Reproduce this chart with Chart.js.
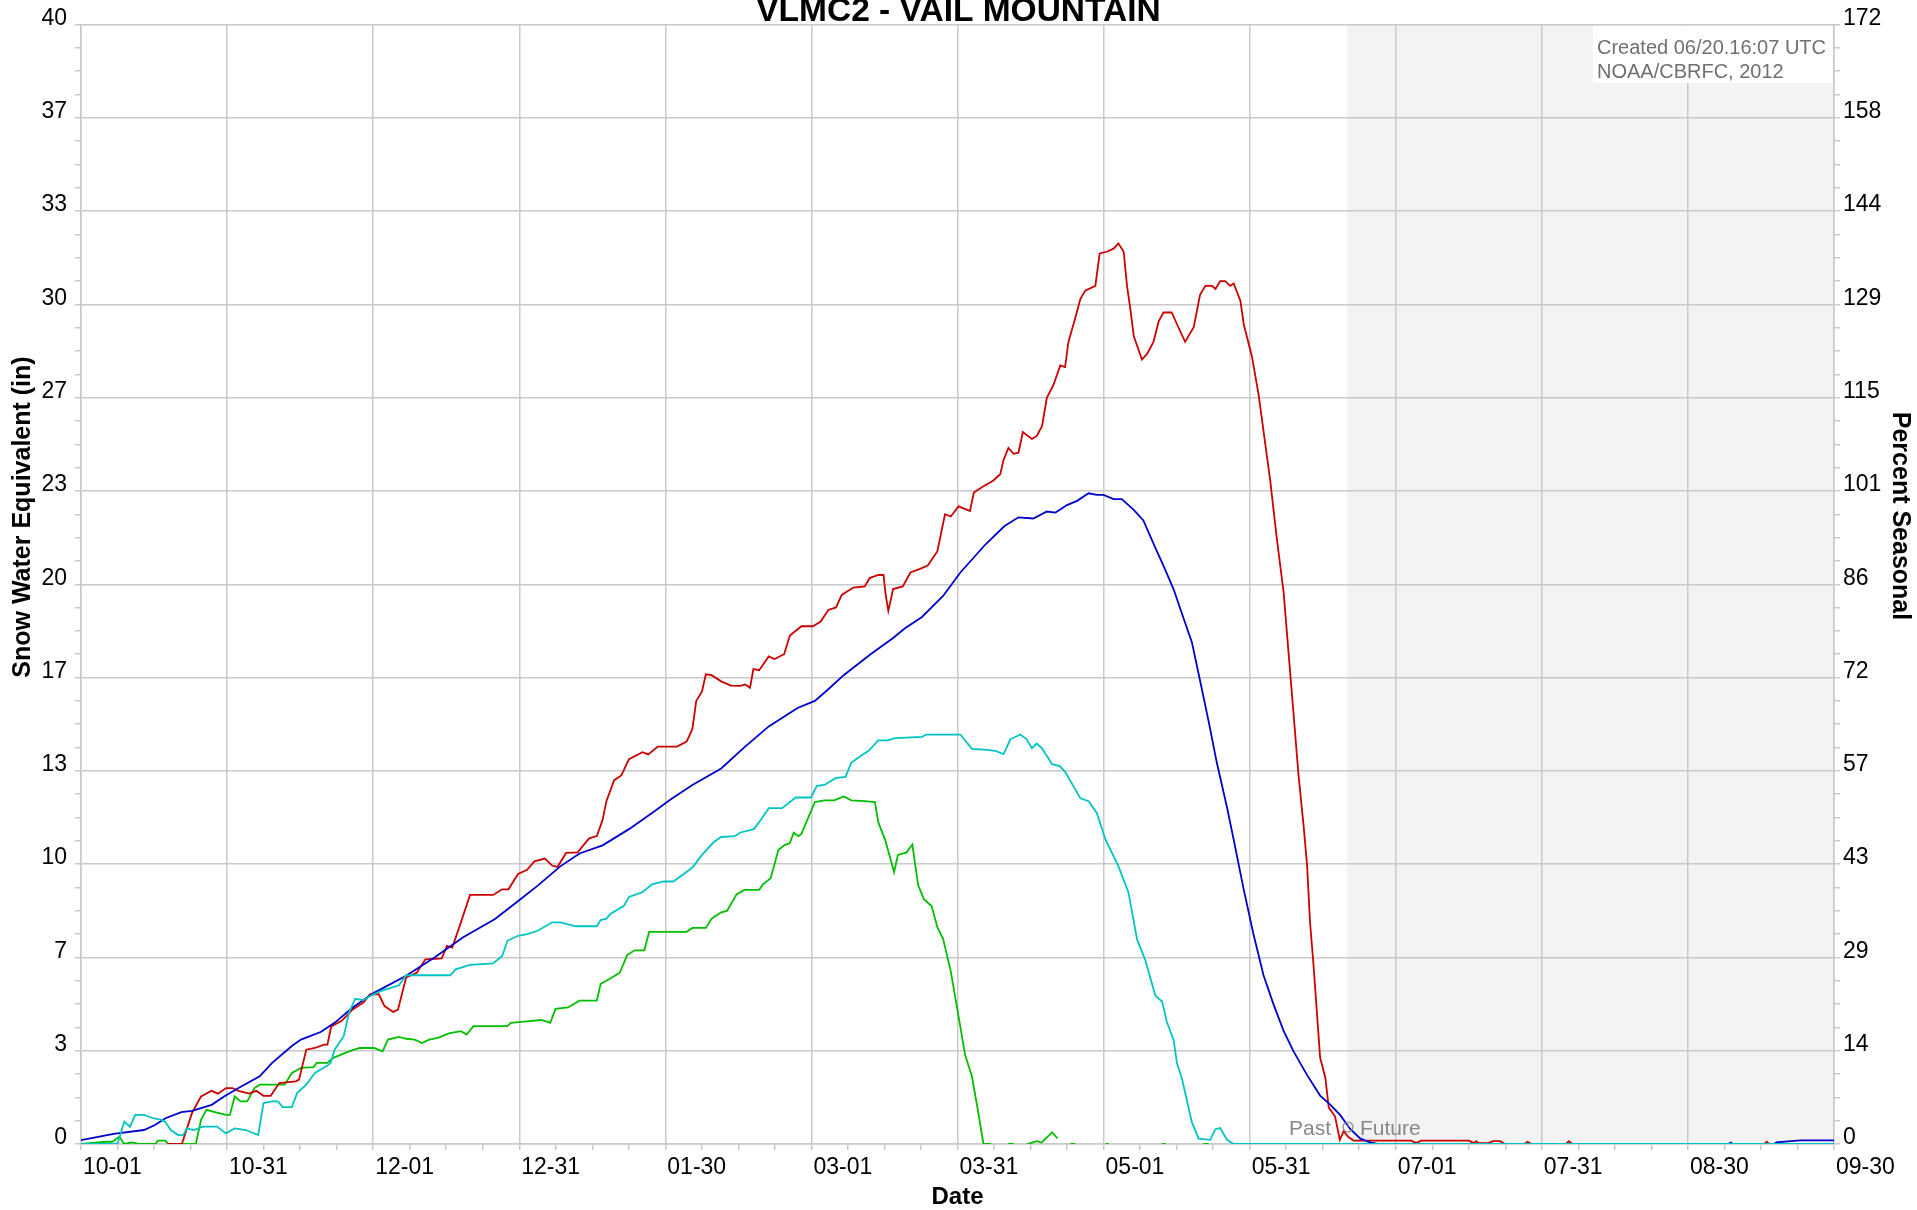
<!DOCTYPE html>
<html>
<head>
<meta charset="utf-8">
<script src="https://cdn.jsdelivr.net/npm/chart.js@4.4.0/dist/chart.umd.min.js"></script>
<style>
  html, body { margin: 0; padding: 0; background: #fff; }
  #grafico { display: block; }
</style>
</head>
<body>
<canvas id="grafico" width="1917" height="1210"></canvas>
<script>
// Datos del grafico (dia desde 10-01, pulgadas de SWE)
const tituloGrafico = "VLMC2 - VAIL MOUNTAIN";
const xTickLabels = ["10-01","10-31","12-01","12-31","01-30","03-01","03-31","05-01","05-31","07-01","07-31","08-30","09-30"];
const sweTickLabels = ["0","3","7","10","13","17","20","23","27","30","33","37","40"];
const pctTickLabels = ["0","14","29","43","57","72","86","101","115","129","144","158","172"];
const diaMax = 365;
const sweMax = 40;
const pctMax = 172.4;
const diaFuturo = 263.6;

const medianaSwe = [[0,0.14],[6.8,0.36],[13.1,0.5],[15.4,0.68],[17.6,0.92],[20.9,1.14],[23.1,1.18],[27.2,1.4],[29.8,1.7],[32.8,2.0],[37.2,2.42],[39.8,2.9],[43.9,3.5],[45.8,3.73],[49.9,4.0],[52.8,4.33],[56.5,4.87],[61,5.4],[67.6,6.0],[73.6,6.66],[79.5,7.38],[86.2,8.04],[90.7,8.64],[95.1,9.23],[99.8,9.92],[103.8,10.38],[108.6,10.67],[114.1,11.25],[118.9,11.83],[122.9,12.33],[127.3,12.83],[133.3,13.42],[138.1,14.17],[143.2,14.92],[149.2,15.58],[152.8,15.83],[155.6,16.25],[158.8,16.75],[164.4,17.5],[169.1,18.08],[171.5,18.42],[175.1,18.83],[179.5,19.58],[183.1,20.42],[188.3,21.42],[192.3,22.08],[195.2,22.39],[198.3,22.35],[201.1,22.6],[202.9,22.56],[205.3,22.83],[207.4,22.98],[209.8,23.25],[211.5,23.19],[212.9,23.19],[215,23.04],[216.7,23.04],[219.2,22.66],[221.2,22.28],[223.7,21.3],[225.4,20.66],[227.5,19.82],[229.6,18.77],[231.3,17.93],[233,16.56],[234.8,15.09],[236.5,13.62],[238.6,12.04],[240,10.88],[242.1,9.09],[244.1,7.51],[246.2,6.04],[248.3,4.99],[250.4,4.04],[252.5,3.3],[255.3,2.46],[258,1.73],[260.1,1.41],[262.2,1.03],[264.3,0.53],[266.4,0.19],[268.4,0.06],[270,0],[343,0],[343.5,0.05],[344,0],[352.5,0],[353,0.06],[356,0.1],[358,0.13],[365,0.13]];

const rojoSwe = [[18,0],[21,0],[23.1,1.1],[25,1.7],[27.2,1.9],[28.5,1.8],[30.2,2.0],[31.5,2.0],[32.8,1.9],[35,1.8],[36.5,1.9],[38,1.72],[39.5,1.72],[40.2,1.9],[41.3,2.18],[44.7,2.24],[45.4,2.3],[46.9,3.37],[48.7,3.43],[50.6,3.55],[51.3,3.55],[52.1,4.2],[54.3,4.4],[56.5,4.8],[58.8,5.05],[60.2,5.35],[62,5.35],[63.2,4.93],[65,4.72],[66,4.8],[67.7,5.95],[69.9,6.12],[71.7,6.6],[75.1,6.63],[76.2,7.08],[77.3,7.02],[79.1,7.92],[81,8.9],[85.8,8.9],[87.7,9.1],[89,9.1],[91,9.65],[92.9,9.8],[94.4,10.1],[96.6,10.2],[98.1,9.95],[99.2,9.9],[101,10.4],[103.4,10.42],[105.8,10.92],[107.4,11.0],[108.6,11.58],[109.4,12.25],[111,13.0],[112.5,13.17],[114.1,13.75],[116.9,14.0],[118.1,13.92],[120.1,14.2],[124.1,14.2],[126.1,14.38],[127.3,14.83],[128.1,15.83],[129.3,16.17],[130.1,16.78],[131.3,16.75],[133.3,16.53],[135.3,16.38],[137.3,16.37],[138.3,16.42],[139.3,16.3],[140,16.97],[141.2,16.93],[143.2,17.42],[144.4,17.33],[146.4,17.5],[147.6,18.17],[150,18.5],[152.4,18.5],[154,18.67],[155.6,19.08],[157.2,19.17],[158.4,19.62],[160.8,19.88],[163.2,19.92],[164.2,20.22],[166,20.33],[167.1,20.33],[167.5,19.67],[168.1,19.05],[169.1,19.83],[171.1,19.92],[172.7,20.42],[174.7,20.55],[176.3,20.67],[178.3,21.17],[179.9,22.5],[181.1,22.42],[182.7,22.78],[185.1,22.62],[185.9,23.28],[187.9,23.5],[189.9,23.7],[191.4,23.93],[192.1,24.45],[193.1,24.87],[194.2,24.66],[195.2,24.7],[196.1,25.44],[198,25.19],[199,25.3],[200.1,25.65],[201.1,26.66],[202.5,27.13],[203.9,27.82],[204.9,27.76],[205.6,28.66],[207,29.5],[208.1,30.2],[209.1,30.49],[211.2,30.66],[212.1,31.82],[213.6,31.88],[215,31.99],[216,32.18],[217.1,31.88],[217.8,30.66],[218.5,29.82],[219.2,28.87],[220.9,28.03],[222,28.24],[223.3,28.66],[224.4,29.4],[225.4,29.71],[227.1,29.71],[228.2,29.29],[229.9,28.66],[231.7,29.19],[233,30.34],[234.1,30.66],[235.5,30.66],[236.2,30.55],[237.2,30.83],[238.2,30.83],[239.3,30.66],[240,30.75],[241.4,30.13],[242.1,29.29],[243.8,28.14],[245.2,26.77],[246.2,25.5],[247.6,23.72],[249,21.61],[250.4,19.72],[251.4,17.61],[252.5,15.3],[253.5,13.19],[254.6,11.3],[255.3,9.93],[255.9,7.93],[256.6,6.46],[257.3,4.78],[258,3.09],[259.1,2.36],[259.8,1.3],[261.1,0.99],[262.1,0.15],[262.9,0.46],[263.9,0.25],[265,0.12],[277,0.12],[278,0.03],[279,0.12],[289,0.12],[290,0.03],[290.5,0.1],[291,0.03],[293,0.03],[294,0.1],[295.5,0.1],[296.5,0],[300.5,0],[301.2,0.08],[302,0],[309.2,0],[309.8,0.1],[310.5,0],[350.5,0],[351,0.08],[351.5,0],[365,0]];

const cianSwe = [[0,0],[7.6,0],[9,0.8],[10.2,0.62],[11.3,1.04],[13.1,1.04],[15,0.92],[16.8,0.86],[17.5,0.8],[18.7,0.5],[20.2,0.32],[21.3,0.32],[22,0.56],[23.5,0.5],[25.4,0.62],[28.3,0.62],[30.2,0.38],[32,0.56],[34.3,0.5],[36.9,0.32],[38,1.46],[39.8,1.52],[41,1.52],[42,1.32],[43.9,1.32],[45,1.82],[46.9,2.12],[48.7,2.54],[51.3,2.8],[52,2.9],[52.8,3.37],[54.7,3.85],[55.8,4.69],[57.1,5.19],[58.8,5.14],[60.2,5.29],[62.5,5.47],[64.7,5.59],[66.2,5.67],[67.7,6.03],[76.9,6.03],[78,6.24],[81,6.4],[85.8,6.45],[87.7,6.72],[88.8,7.26],[91,7.44],[92.9,7.5],[95.1,7.62],[98.1,7.92],[99.8,7.92],[103,7.78],[107.4,7.78],[108.2,8.0],[109.4,8.05],[110.2,8.22],[113,8.5],[114.1,8.83],[116.9,9.0],[118.9,9.28],[121.3,9.38],[123.3,9.38],[125.3,9.62],[127.3,9.88],[129.3,10.33],[131.7,10.78],[133.3,10.97],[136.1,11.0],[137.3,11.13],[140.1,11.25],[141.2,11.5],[143.2,12.0],[146,12.0],[147.6,12.22],[148.8,12.38],[152,12.38],[153.2,12.8],[154.8,12.83],[157.2,13.08],[159.2,13.12],[160.4,13.63],[162.8,13.92],[164,14.05],[166,14.42],[168,14.42],[169.5,14.5],[175.1,14.55],[176,14.63],[177.5,14.63],[183.1,14.63],[185.5,14.12],[188.7,14.08],[190.3,14.05],[192.1,13.93],[193.5,14.46],[195.6,14.63],[196.9,14.46],[198,14.14],[199,14.31],[200.1,14.14],[202.2,13.57],[203.8,13.5],[204.9,13.3],[208.1,12.35],[209.8,12.25],[211.5,11.83],[213.3,10.88],[216,9.93],[218.1,8.99],[219.9,7.3],[221.6,6.57],[223.7,5.3],[225.1,5.09],[226.1,4.36],[227.5,3.72],[228.2,2.88],[229.2,2.36],[231.3,0.78],[232.7,0.19],[235.1,0.15],[236.2,0.53],[237.2,0.57],[238.6,0.15],[240,0],[365,0]];

const verdeSwe = [[0,0],[5.3,0.08],[6.5,0.08],[8,0.26],[9,0],[10.5,0.06],[12,0],[15.5,0],[16,0.12],[17.5,0.12],[18.2,0],[23.9,0],[25,0.86],[26.1,1.22],[28.3,1.12],[30.2,1.04],[31,1.04],[32,1.7],[33.2,1.52],[34.6,1.52],[36.1,2.0],[37.2,2.12],[42.4,2.12],[43.9,2.54],[45.8,2.72],[48.4,2.75],[49.1,2.9],[51.3,2.9],[52.4,3.07],[55.8,3.31],[58,3.43],[61,3.43],[62.8,3.31],[63.9,3.73],[66.2,3.83],[67.7,3.76],[69.5,3.73],[71,3.61],[72.5,3.73],[74.3,3.79],[76.6,3.95],[79.1,4.03],[80.3,3.91],[81.7,4.21],[88.8,4.21],[89.5,4.33],[93.3,4.39],[95.9,4.43],[97.7,4.33],[98.8,4.83],[101.4,4.88],[103.8,5.12],[107.4,5.12],[108.2,5.72],[109.4,5.83],[112.2,6.12],[113.7,6.75],[115.3,6.92],[117.3,6.92],[118.3,7.58],[126.1,7.58],[127.3,7.72],[130.1,7.72],[131.3,8.05],[133.3,8.28],[134.5,8.33],[136.5,8.92],[138.1,9.08],[141.2,9.08],[142,9.28],[143.6,9.5],[145.2,10.5],[146.4,10.67],[147.6,10.75],[148.4,11.12],[149.4,11.0],[150,11.08],[152.8,12.22],[154.8,12.28],[156.8,12.28],[158.8,12.42],[160.4,12.28],[163.2,12.25],[165.3,12.22],[166,11.5],[167.5,10.83],[169.3,9.72],[170.1,10.33],[171.9,10.42],[173.1,10.7],[174.3,9.25],[175.5,8.75],[177.1,8.5],[178.3,7.75],[179.5,7.33],[181.1,6.17],[182.7,4.58],[184.1,3.17],[185.5,2.42],[186.7,1.25],[187.9,0],[189.5,0],[190,null],[193,0],[194.2,0],[195,null],[197,0],[199,0.1],[200,0.05],[202.2,0.42],[203.3,0.2],[203.8,null],[206,0],[207,0],[207.5,null],[213.3,0],[214,0],[214.5,null],[225,0],[225.8,0],[226.5,null],[233.7,0],[234.8,0]];

const fuente = "'Liberation Sans', Arial, sans-serif";
const grisGrilla = "#c9c9c9";
Chart.defaults.font.family = fuente;
Chart.defaults.color = "#000";

function serie(nombre, pares, color) {
  return {
    label: nombre,
    data: pares.map(([x, y]) => ({ x: x, y: y })),
    borderColor: color,
    backgroundColor: color,
    borderWidth: 1.8,
    pointRadius: 0,
    tension: 0,
    spanGaps: false,
  };
}

// 12 divisiones mayores con 4 menores cada una
function marcasParejas(max) {
  return (scale) => {
    scale.ticks = [];
    for (let i = 0; i <= 48; i++) scale.ticks.push({ value: (max * i) / 48 });
  };
}
const colorGrilla = (c) => (c.index % 4 === 0 ? grisGrilla : "rgba(0,0,0,0)");
const etiqueta = (lista) => (v, i) => (i % 4 === 0 ? lista[i / 4] : "");

// Zona gris del futuro, debajo de la grilla
const fondoFuturo = {
  id: "fondoFuturo",
  beforeDraw(chart) {
    const { ctx, chartArea, scales } = chart;
    const x0 = scales.x.getPixelForValue(diaFuturo);
    ctx.save();
    ctx.fillStyle = "#f3f3f3";
    ctx.fillRect(x0, chartArea.top, chartArea.right - x0, chartArea.bottom - chartArea.top);
    ctx.restore();
  },
};

// Titulos de ejes, nota de creacion y Past | Future
const textosExtra = {
  id: "textosExtra",
  afterDraw(chart) {
    const { ctx, scales } = chart;
    ctx.save();
    ctx.fillStyle = "#000";
    ctx.font = "bold 25px " + fuente;
    ctx.textAlign = "center";
    ctx.textBaseline = "middle";
    ctx.save();
    ctx.translate(23, 517);
    ctx.rotate(-Math.PI / 2);
    ctx.fillText("Snow Water Equivalent (in)", 0, 0);
    ctx.restore();
    ctx.save();
    ctx.translate(1900, 516);
    ctx.rotate(Math.PI / 2);
    ctx.fillText("Percent Seasonal", 0, 0);
    ctx.restore();

    ctx.fillStyle = "#fff";
    ctx.fillRect(1593, 26, 240, 57);
    ctx.fillStyle = "#707070";
    ctx.font = "20px " + fuente;
    ctx.textAlign = "left";
    ctx.textBaseline = "alphabetic";
    ctx.fillText("Created 06/20.16:07 UTC", 1597, 53.5);
    ctx.fillText("NOAA/CBRFC, 2012", 1597, 78);

    const xf = scales.x.getPixelForValue(diaFuturo);
    const yb = scales.y.getPixelForValue(0);
    ctx.fillStyle = "#888";
    ctx.font = "21px " + fuente;
    ctx.textAlign = "right";
    ctx.fillText("Past", xf - 16, yb - 9);
    ctx.textAlign = "left";
    ctx.fillText("Future", xf + 13, yb - 9);
    ctx.strokeStyle = "#888";
    ctx.lineWidth = 1.2;
    ctx.beginPath();
    ctx.arc(xf + 1, yb - 17, 5, 0, Math.PI * 2);
    ctx.moveTo(xf + 1, yb - 17);
    ctx.lineTo(xf + 1, yb - 20);
    ctx.stroke();
    ctx.restore();
  },
};

const config = {
  type: "line",
  data: {
    datasets: [
      serie("WY cyan", cianSwe, "#00c4c4"),
      serie("Median", medianaSwe, "#0000cc"),
      serie("WY red", rojoSwe, "#cc0000"),
      serie("WY green", verdeSwe, "#00bf00"),
    ],
  },
  options: {
    responsive: false,
    animation: false,
    devicePixelRatio: 1,
    events: [],
    layout: { padding: 0 },
    plugins: {
      legend: { display: false },
      tooltip: { enabled: false },
      title: {
        display: true,
        text: tituloGrafico,
        color: "#000",
        font: { size: 33.5, weight: "bold", lineHeight: 1 },
        padding: { top: -5, bottom: -4 },
      },
    },
    scales: {
      x: {
        type: "linear",
        min: 0,
        max: diaMax,
        afterBuildTicks: marcasParejas(diaMax),
        afterFit: (s) => { s.height = 66; },
        grid: { color: colorGrilla, tickColor: grisGrilla, lineWidth: 1.5, tickLength: 6 },
        border: { color: grisGrilla, width: 1.5 },
        ticks: {
          autoSkip: false, maxRotation: 0, minRotation: 0, align: "start",
          padding: 3.5, labelOffset: 2, font: { size: 23 },
          callback: etiqueta(xTickLabels),
        },
        title: { display: true, text: "Date", font: { size: 24, weight: "bold" }, padding: { top: 0, bottom: -1.5 } },
      },
      y: {
        position: "left",
        min: 0,
        max: sweMax,
        afterBuildTicks: marcasParejas(sweMax),
        afterFit: (s) => { s.width = 81; },
        grid: { color: colorGrilla, tickColor: grisGrilla, lineWidth: 1.5, tickLength: 6 },
        border: { color: grisGrilla, width: 1.5 },
        ticks: { autoSkip: false, padding: 8, labelOffset: -6, font: { size: 23 }, callback: etiqueta(sweTickLabels) },
      },
      y2: {
        position: "right",
        min: 0,
        max: pctMax,
        afterBuildTicks: marcasParejas(pctMax),
        afterFit: (s) => { s.width = 83; },
        grid: { drawOnChartArea: false, tickColor: grisGrilla, lineWidth: 1.5, tickLength: 6 },
        border: { color: grisGrilla, width: 1.5 },
        ticks: { autoSkip: false, padding: 3, labelOffset: -6, font: { size: 23 }, callback: etiqueta(pctTickLabels) },
      },
    },
  },
  plugins: [fondoFuturo, textosExtra],
};

const grafico = new Chart(document.getElementById("grafico"), config);
</script>
</body>
</html>
